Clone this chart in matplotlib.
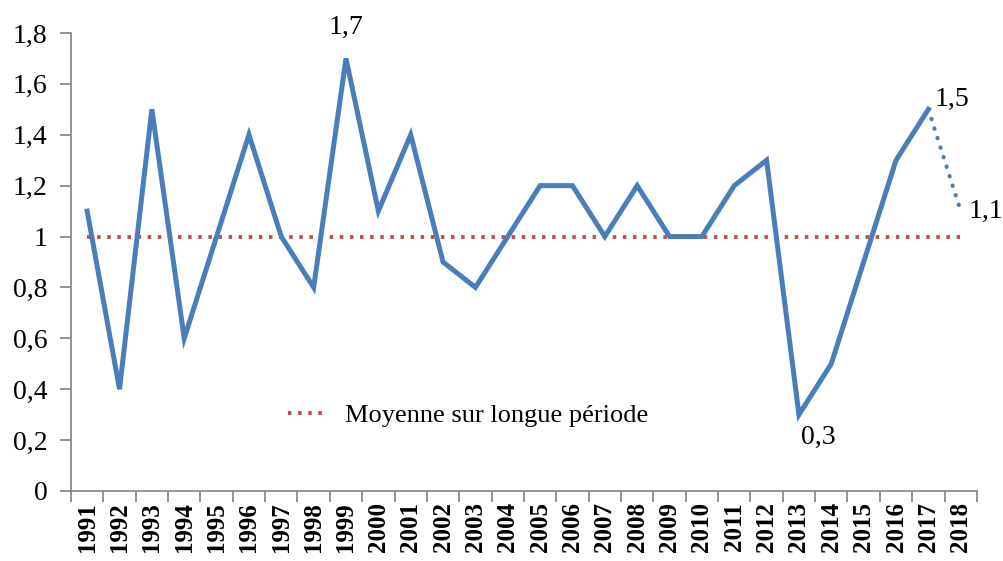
import matplotlib
matplotlib.use("Agg")
import matplotlib.pyplot as plt
import numpy as np

# data
years = [str(y) for y in range(1991, 2019)]
values = [1.1, 0.4, 1.5, 0.6, 1.0, 1.4, 1.0, 0.8, 1.7, 1.1,
          1.4, 0.9, 0.8, 1.0, 1.2, 1.2, 1.0, 1.2, 1.0, 1.0,
          1.2, 1.3, 0.3, 0.5, 0.9, 1.3, 1.5, 1.1]
moyenne = [1.0] * len(years)
yticks = [0, 0.2, 0.4, 0.6, 0.8, 1.0, 1.2, 1.4, 1.6, 1.8]
ytick_labels = ["0", "0,2", "0,4", "0,6", "0,8", "1", "1,2", "1,4", "1,6", "1,8"]
labels = {1999: "1,7", 2013: "0,3", 2017: "1,5", 2018: "1,1"}

blue = "#4a7ebb"
red = "#c0504d"
serif = "Liberation Serif"

fig = plt.figure(figsize=(10.04, 5.61), dpi=100)
ax = fig.add_axes([0.0707, 0.1248, 0.9023, 0.8164])

x = np.arange(len(years))
# solid part up to 2017, dotted forecast 2017-2018
ax.plot(x[:-1], values[:-1], color=blue, lw=3.6, solid_joinstyle="miter", zorder=3)
ax.plot(x[-2:], values[-2:], color=blue, lw=3.0, linestyle=(0, (0.1, 2.3)),
        dash_capstyle="round", zorder=3)
ax.plot(x, moyenne, color=red, lw=2.8, linestyle=(0, (0.9, 1.7)), zorder=2,
        label="Moyenne sur longue période")

# value labels
offsets = {1999: (0, 31), 2013: (19, -23), 2017: (24, 10), 2018: (25, 0)}
for yr, txt in labels.items():
    i = yr - 1991
    dx, dy = offsets[yr]
    ax.annotate(txt, (x[i], values[i]), xytext=(dx, dy), textcoords="offset pixels",
                ha="center", va="center", fontsize=20, family=serif)

ax.set_xlim(-0.5, len(years) - 0.5)
ax.set_ylim(0, 1.8)
ax.set_yticks(yticks)
ax.set_yticklabels(ytick_labels, fontsize=20, family=serif)
ax.set_xticks(x)
ax.set_xticklabels(years, rotation=90, fontsize=18, family=serif, fontweight="bold")
ax.set_xticks(np.arange(-0.5, len(years)), minor=True)
ax.tick_params(axis="x", which="major", length=0, pad=8)
ax.tick_params(axis="x", which="minor", length=8, width=1.2, color="#808080", direction="out")
ax.tick_params(axis="y", length=8, width=1.2, color="#808080", direction="out", pad=9)

for s in ["top", "right"]:
    ax.spines[s].set_visible(False)
for s in ["left", "bottom"]:
    ax.spines[s].set_color("#808080")
    ax.spines[s].set_linewidth(1.2)

leg = ax.legend(loc="center left", bbox_to_anchor=(0.2134, 0.165), frameon=False,
                prop={"family": serif, "size": 19}, handlelength=1.4, handletextpad=0.75)

fig.savefig("out.png", dpi=100)
